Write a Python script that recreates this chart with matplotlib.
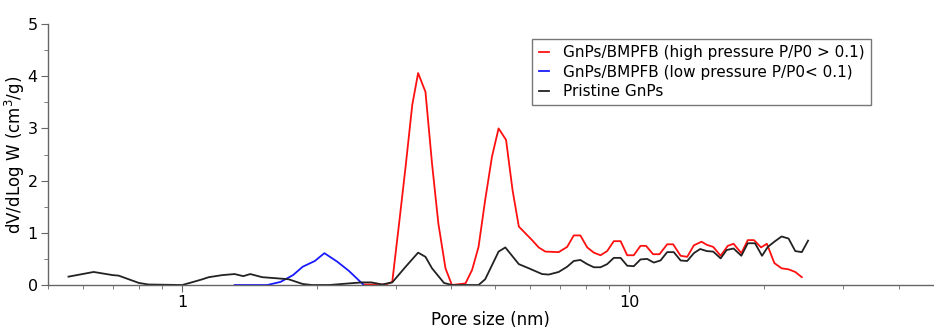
import matplotlib
matplotlib.use("Agg")
import matplotlib.pyplot as plt
from matplotlib.ticker import FixedLocator, NullFormatter, LogLocator

# Pristine GnPs
pristine_x = [0.557, 0.634, 0.699, 0.721, 0.80, 0.84, 1.0, 1.05, 1.11, 1.147, 1.23, 1.31,
              1.37, 1.42, 1.51, 1.62, 1.73, 1.86, 1.95, 2.13, 2.52, 2.65, 2.80, 2.95,
              3.16, 3.37, 3.50, 3.62, 3.85, 4.01, 4.60, 4.76, 5.10, 5.28, 5.66, 5.96,
              6.38, 6.60, 6.95, 7.26, 7.51, 7.77, 8.05, 8.33, 8.62, 8.92, 9.23, 9.56,
              9.89, 10.23, 10.59, 10.96, 11.34, 11.74, 12.15, 12.57, 13.02, 13.47, 13.94,
              14.4, 14.9, 15.4, 16.0, 16.5, 17.1, 17.8, 18.4, 19.1, 19.8, 20.4, 21.1,
              21.9, 22.7, 23.5, 24.3, 25.1]
pristine_y = [0.16, 0.25, 0.19, 0.18, 0.04, 0.01, 0.0, 0.05, 0.11, 0.15, 0.19, 0.21,
              0.17, 0.21, 0.15, 0.13, 0.11, 0.02, 0.0, 0.0, 0.05, 0.05, 0.01, 0.05,
              0.35, 0.62, 0.54, 0.32, 0.04, 0.0, 0.0, 0.11, 0.64, 0.72, 0.40, 0.32,
              0.21, 0.20, 0.25, 0.35, 0.46, 0.48, 0.40, 0.34, 0.34, 0.40, 0.52, 0.52,
              0.37, 0.36, 0.49, 0.50, 0.43, 0.47, 0.63, 0.63, 0.47, 0.46, 0.61,
              0.69, 0.65, 0.64, 0.51, 0.67, 0.70, 0.56, 0.80, 0.80, 0.56, 0.73, 0.83,
              0.93, 0.89, 0.65, 0.63, 0.85]

# GnPs/BMPFB low pressure
low_x = [1.31, 1.55, 1.66, 1.77, 1.86, 1.98, 2.08, 2.22, 2.36, 2.54]
low_y = [0.0, 0.0, 0.06, 0.19, 0.35, 0.46, 0.61, 0.45, 0.27, 0.01]

# GnPs/BMPFB high pressure
high_x = [2.54, 2.85, 2.95, 3.05, 3.16, 3.27, 3.37, 3.50, 3.62, 3.74, 3.88, 4.01,
          4.30, 4.45, 4.60, 4.76, 4.93, 5.10, 5.30, 5.48, 5.66, 6.06, 6.27, 6.49,
          6.95, 7.26, 7.51, 7.77, 8.05, 8.33, 8.62, 8.92, 9.23, 9.56, 9.89, 10.23,
          10.59, 10.90, 11.30, 11.68, 12.15, 12.53, 13.02, 13.47, 13.94, 14.5, 14.9,
          15.4, 16.0, 16.6, 17.1, 17.8, 18.4, 19.0, 19.7, 20.3, 21.1, 21.9, 22.7,
          23.5, 24.3]
high_y = [0.01, 0.01, 0.06, 1.12, 2.27, 3.45, 4.06, 3.70, 2.33, 1.18, 0.32, 0.0,
          0.03, 0.29, 0.73, 1.63, 2.46, 3.00, 2.78, 1.82, 1.12, 0.86, 0.72, 0.64,
          0.63, 0.73, 0.95, 0.95, 0.72, 0.62, 0.57, 0.65, 0.84, 0.84, 0.57, 0.57,
          0.75, 0.75, 0.59, 0.59, 0.78, 0.78, 0.56, 0.54, 0.76, 0.83, 0.77,
          0.73, 0.56, 0.75, 0.79, 0.61, 0.86, 0.86, 0.72, 0.79, 0.42, 0.32, 0.30,
          0.25, 0.15]

fig = plt.figure(figsize=(9.34, 3.29), dpi=100)
ax = fig.add_axes([0.0509, 0.1337, 0.9491, 0.7933])

ax.plot(high_x, high_y, color="#ff1010", lw=1.3,
        label="GnPs/BMPFB (high pressure P/P0 > 0.1)")
ax.plot(low_x, low_y, color="#1a1aff", lw=1.3,
        label="GnPs/BMPFB (low pressure P/P0< 0.1)")
ax.plot(pristine_x, pristine_y, color="#222222", lw=1.3, label="Pristine GnPs")

ax.set_xscale("log")
ax.set_xlim(0.5, 48)
ax.set_ylim(0, 5)

ax.xaxis.set_major_locator(FixedLocator([1, 10]))
ax.xaxis.set_major_formatter(plt.FuncFormatter(lambda v, p: f"{v:g}"))
ax.xaxis.set_minor_locator(LogLocator(base=10, subs=range(2, 10)))
ax.xaxis.set_minor_formatter(NullFormatter())
ax.set_yticks([0, 1, 2, 3, 4, 5])
ax.set_yticks([0.5, 1.5, 2.5, 3.5, 4.5], minor=True)

for side in ["top", "right"]:
    ax.spines[side].set_visible(False)
for side in ["left", "bottom"]:
    ax.spines[side].set_color("#666666")
    ax.spines[side].set_linewidth(1.0)

ax.tick_params(which="major", length=5, color="#666666", labelsize=11.5, pad=2)
ax.tick_params(which="minor", length=3, color="#666666")

ax.set_xlabel("Pore size (nm)", fontsize=12)
ax.xaxis.set_label_coords(0.5, -0.1, transform=ax.transAxes)
ax.xaxis.label.set_va("top")
ax.set_ylabel("dV/dLog W (cm$^3$/g)", fontsize=12)
ax.yaxis.set_label_coords(-0.037, 0.5, transform=ax.transAxes)
ax.yaxis.label.set_va("center")

leg = ax.legend(loc="upper left", bbox_to_anchor=(0.547, 0.943), borderaxespad=0,
                fontsize=11, frameon=True, fancybox=False, handlelength=0.7,
                handletextpad=0.9, borderpad=0.4, labelspacing=0.3)
leg.get_frame().set_edgecolor("#555555")
leg.get_frame().set_linewidth(1.0)

fig.savefig("out.png", dpi=100)
